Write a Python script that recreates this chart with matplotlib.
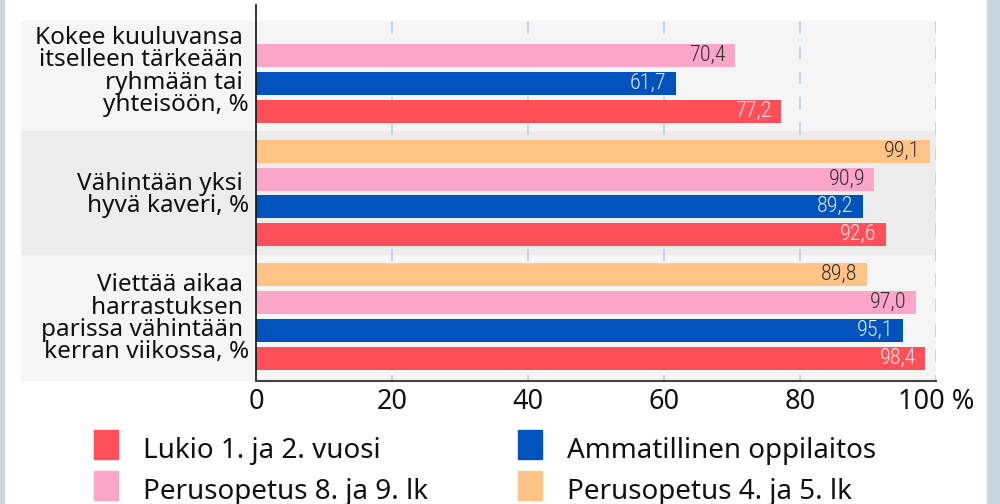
import numpy as np
import matplotlib
matplotlib.use("Agg")
import matplotlib.pyplot as plt
from matplotlib import font_manager, transforms
from matplotlib.patches import Rectangle

# data
categories = ["Kokee kuuluvansa \nitselleen tärkeään \nryhmään tai \nyhteisöön, %",
              "Vähintään yksi \nhyvä kaveri, %",
              "Viettää aikaa \nharrastuksen \nparissa vähintään \nkerran viikossa, %"]
series_names = ["Lukio 1. ja 2. vuosi", "Ammatillinen oppilaitos",
                "Perusopetus 8. ja 9. lk", "Perusopetus 4. ja 5. lk"]
lukio = [77.2, 92.6, 98.4]
ammatillinen = [61.7, 89.2, 95.1]
perus_8_9 = [70.4, 90.9, 97.0]
perus_4_5 = [np.nan, 99.1, 89.8]
xticks = [0, 20, 40, 60, 80, 100]
xticklabels = ["0", "20", "40", "60", "80", "100 %"]

colors = ["#ff505a", "#0052bd", "#fba5c8", "#ffc386"]
value_colors = ["#ffe4e6", "#e3eaf8", "#333333", "#333333"]
values = [lukio, ammatillinen, perus_8_9, perus_4_5]
offsets = [1.5, 0.5, -0.5, -1.5]   # slot inside category, top = orange

installed = {f.name for f in font_manager.fontManager.ttflist}
main_font = "Noto Sans" if "Noto Sans" in installed else "DejaVu Sans"
num_font = "DejaVu Sans"
for cand in ["Roboto Condensed", "Liberation Sans Narrow", "Roboto"]:
    if cand in installed:
        num_font = cand
        break
plt.rcParams["font.family"] = [main_font, "DejaVu Sans"]

fig = plt.figure(figsize=(10, 5.04), dpi=100)
ax = fig.add_axes([0.256, 1 - 381 / 504, 0.68, (381 - 5) / 504])

step = 28 / 124
bar_h = 23 / 124
y = np.arange(len(categories))

# category bands
band_cols = ["#f5f5f5", "#ececec", "#f5f5f5"]
band_edges = [(-0.39, 0.5), (0.5, 1.5), (1.5, 2.52)]
for (b0, b1), bc in zip(band_edges, band_cols):
    p = ax.axhspan(b0, b1, xmin=-0.3456, xmax=1, color=bc, lw=0, zorder=0)
    p.set_clip_on(False)

# grid
ax.vlines(xticks[1:], -0.39, 2.52, colors="#c6d3de", linewidths=1.3,
          linestyles=[(0, (7, 7))], zorder=1)

lbl_tr = transforms.offset_copy(ax.transData, fig=fig, x=-9, y=0, units="dots")
for vals, off, col, vcol in zip(values, offsets, colors, value_colors):
    ypos = y + off * step
    ax.barh(ypos, vals, height=bar_h, color=col, zorder=2)
    for yy, v in zip(ypos, vals):
        if np.isnan(v):
            continue
        ax.text(v, yy, f"{v:.1f}".replace(".", ","), transform=lbl_tr,
                ha="right", va="center", fontsize=16, color=vcol, fontweight="light",
                family=[num_font, "DejaVu Sans"], zorder=3)

ax.set_xlim(0, 100)
ax.set_ylim(2.52, -0.52)
ax.set_xticks(xticks)
ax.set_xticklabels(xticklabels, fontsize=19.5)
ax.set_yticks(y)
ax.set_yticklabels(categories, fontsize=17.5)
for lbl in ax.get_yticklabels():
    lbl.set_linespacing(0.9)
ax.tick_params(axis="both", length=0, colors="#111111")
ax.tick_params(axis="x", pad=5)
ax.tick_params(axis="y", pad=5)
ax.patch.set_visible(False)
for s in ["top", "right"]:
    ax.spines[s].set_visible(False)
ax.spines["left"].set_color("#111111")
ax.spines["left"].set_linewidth(1.2)
ax.spines["bottom"].set_color("#444444")
ax.spines["bottom"].set_linewidth(1.5)

# side strips
fig.patches.append(Rectangle((0, 0), 4 / 1000, 1, transform=fig.transFigure,
                             color="#c9d5df", zorder=0))
fig.patches.append(Rectangle((987 / 1000, 0), 13 / 1000, 1, transform=fig.transFigure,
                             color="#c9d5df", zorder=0))

# legend (manual, 2 columns)
leg_x = [94, 518]
leg_base = [458, 499]
for i, (name, col) in enumerate(zip(series_names, colors)):
    c, r = i % 2, i // 2
    sq_top = leg_base[r] - 28
    fig.patches.append(Rectangle((leg_x[c] / 1000, 1 - (sq_top + 29) / 504),
                                 24 / 1000, 29 / 504, transform=fig.transFigure,
                                 color=col))
    fig.text((leg_x[c] + 49) / 1000, 1 - leg_base[r] / 504, name,
             fontsize=20, va="baseline", ha="left", color="#111111")

fig.savefig("out.png", dpi=100)
